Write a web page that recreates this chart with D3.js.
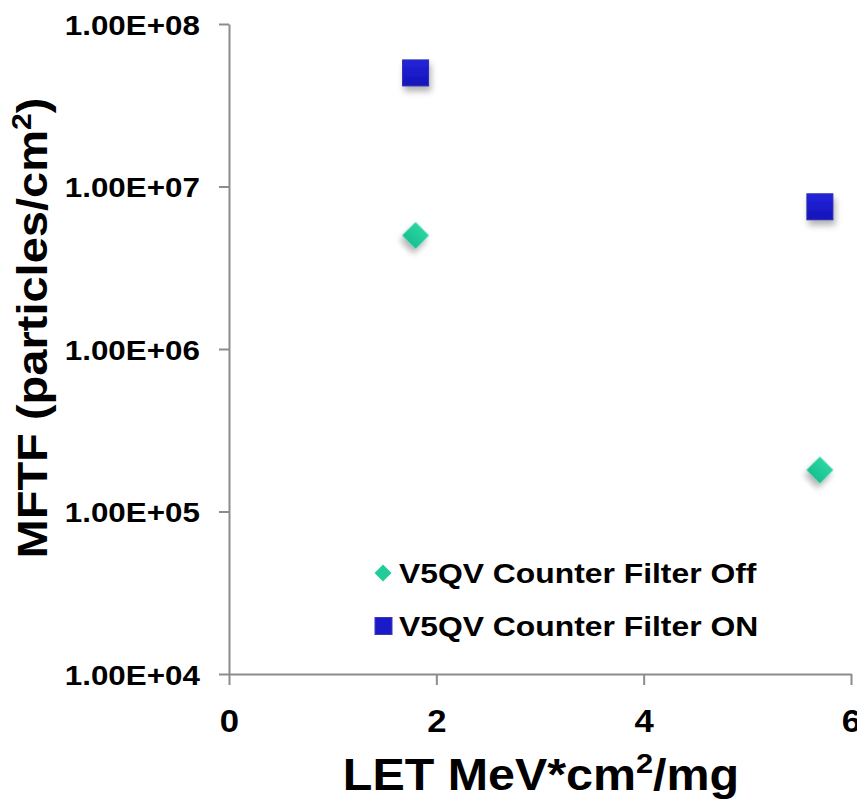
<!DOCTYPE html>
<html>
<head>
<meta charset="utf-8">
<script src="https://cdn.jsdelivr.net/npm/d3@7/dist/d3.min.js"></script>
<style>
  html, body { margin: 0; padding: 0; background: #fff; }
  svg { display: block; font-family: "Liberation Sans", Arial, sans-serif; font-weight: bold; }
</style>
</head>
<body>
<svg id="chart" width="857" height="800"></svg>
<script>
// LET values (MeV*cm2/mg)
const letOff = [1.8, 5.7];
const letOn = [1.8, 5.7];
// Mean fluence to failure (particles/cm2)
const mftfOff = [5.0e6, 1.8e5];
const mftfOn = [5.0e7, 7.5e6];

const seriesNames = ["V5QV Counter Filter Off", "V5QV Counter Filter ON"];
const xTicks = [0, 2, 4, 6];
const yTicks = [1e4, 1e5, 1e6, 1e7, 1e8];

const svg = d3.select("#chart");

const x = d3.scaleLinear().domain([0, 6]).range([229, 851]);
const y = d3.scaleLog().domain([1e4, 1e8]).range([674, 24]);

const axisColor = "#8c8c8c";
const wide = 1.12; // horizontal stretch of the bold lettering

// drop shadow for markers
const defs = svg.append("defs");
const shadow = defs.append("filter").attr("id", "shadow")
  .attr("x", "-50%").attr("y", "-50%").attr("width", "200%").attr("height", "200%");
shadow.append("feDropShadow").attr("dx", 2).attr("dy", 5).attr("stdDeviation", 3)
  .attr("flood-color", "#000").attr("flood-opacity", 0.3);

const gBlue = defs.append("linearGradient").attr("id", "gBlue")
  .attr("x1", 0).attr("y1", 0).attr("x2", 0).attr("y2", 1);
gBlue.append("stop").attr("offset", "0%").attr("stop-color", "#2424dc");
gBlue.append("stop").attr("offset", "100%").attr("stop-color", "#1414b8");

const gGreen = defs.append("linearGradient").attr("id", "gGreen")
  .attr("x1", 0).attr("y1", 0).attr("x2", 0).attr("y2", 1);
gGreen.append("stop").attr("offset", "0%").attr("stop-color", "#2ad6a2");
gGreen.append("stop").attr("offset", "100%").attr("stop-color", "#18c090");

// Y axis
const fmtSci = v => {
  const e = Math.round(Math.log10(v));
  const m = v / Math.pow(10, e);
  return m.toFixed(2) + "E+" + String(e).padStart(2, "0");
};
const yAxis = svg.append("g").attr("transform", `translate(${x(0)},0)`)
  .call(d3.axisLeft(y).tickValues(yTicks).tickFormat(fmtSci).tickSize(10).tickSizeOuter(0).tickPadding(16));
yAxis.select(".domain").attr("stroke", axisColor).attr("stroke-width", 2);
yAxis.selectAll(".tick line").attr("stroke", axisColor).attr("stroke-width", 2);
yAxis.selectAll(".tick text").attr("fill", "#000").style("font-size", "28px")
  .style("font-family", "'Liberation Sans', Arial, sans-serif").style("font-weight", "bold")
  .attr("dy", "0.36em").attr("transform", `scale(${wide},1)`);

// X axis
const xAxis = svg.append("g").attr("transform", `translate(0,${y(1e4)})`)
  .call(d3.axisBottom(x).tickValues(xTicks).tickFormat(d3.format("d")).tickSize(11).tickSizeOuter(0).tickPadding(25));
xAxis.select(".domain").attr("stroke", axisColor).attr("stroke-width", 2);
xAxis.selectAll(".tick line").attr("stroke", axisColor).attr("stroke-width", 2);
xAxis.selectAll(".tick text").attr("fill", "#000").style("font-size", "31px")
  .style("font-family", "'Liberation Sans', Arial, sans-serif").style("font-weight", "bold")
  .attr("transform", `scale(${wide},1)`);

// Axis titles
const xTitle = svg.append("g").attr("transform", `translate(541,790) scale(1.1,1)`)
  .append("text").attr("text-anchor", "middle").style("font-size", "44px");
xTitle.append("tspan").text("LET MeV*cm");
xTitle.append("tspan").attr("dy", -17).style("font-size", "28px").text("2");
xTitle.append("tspan").attr("dy", 17).text("/mg");

const yTitle = svg.append("g").attr("transform", `translate(47,328) rotate(-90) scale(${wide},1)`)
  .append("text").attr("text-anchor", "middle").style("font-size", "42px");
yTitle.append("tspan").text("MFTF (particles/cm");
yTitle.append("tspan").attr("dy", -16).style("font-size", "27px").text("2");
yTitle.append("tspan").attr("dy", 16).text(")");

// Markers
const sq = 26, dm = 19;
svg.append("g").selectAll("rect").data(letOn.map((v, i) => [v, mftfOn[i]])).join("rect")
  .attr("x", d => x(d[0]) - sq / 2).attr("y", d => y(d[1]) - sq / 2)
  .attr("width", sq).attr("height", sq)
  .attr("fill", "url(#gBlue)").attr("stroke", "#2b2bb0").attr("stroke-width", 1)
  .attr("filter", "url(#shadow)");

svg.append("g").selectAll("rect").data(letOff.map((v, i) => [v, mftfOff[i]])).join("rect")
  .attr("x", -dm / 2).attr("y", -dm / 2).attr("width", dm).attr("height", dm)
  .attr("transform", d => `translate(${x(d[0])},${y(d[1])}) rotate(45)`)
  .attr("fill", "url(#gGreen)").attr("filter", "url(#shadow)");

// Legend
const legend = svg.append("g");
const legY = [573, 626];
legend.append("rect").attr("x", -6).attr("y", -6).attr("width", 12).attr("height", 12)
  .attr("transform", `translate(383,${legY[0]}) rotate(45)`).attr("fill", "#20cc99");
legend.append("rect").attr("x", 375).attr("y", legY[1] - 8.5).attr("width", 17).attr("height", 17)
  .attr("fill", "#1a1ac8").attr("stroke", "#3a3ab8").attr("stroke-width", 1);
legend.selectAll("g.entry").data(seriesNames).join("g").attr("class", "entry")
  .attr("transform", (d, i) => `translate(399,${legY[i]}) scale(1.18,1)`)
  .append("text").attr("dy", "0.36em").style("font-size", "27px").text(d => d);
</script>
</body>
</html>
